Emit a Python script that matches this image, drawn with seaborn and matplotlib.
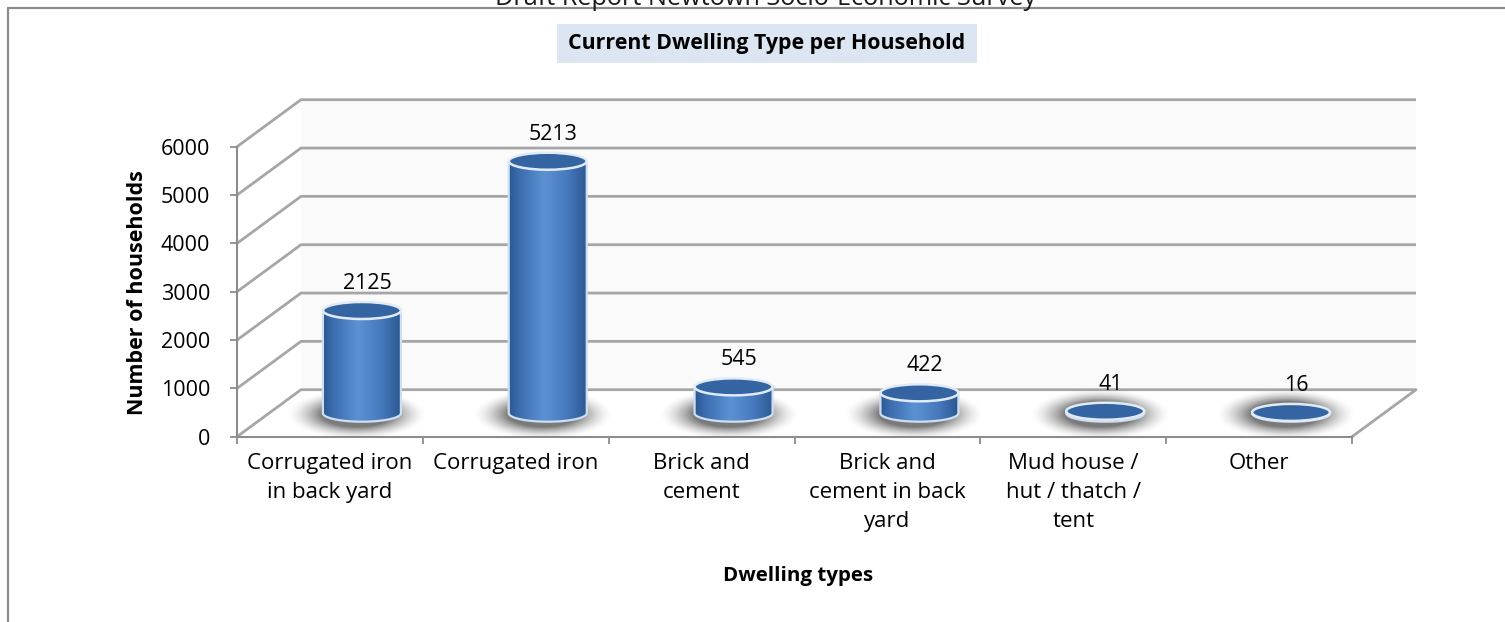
import numpy as np
import pandas as pd
import matplotlib
matplotlib.use("Agg")
import matplotlib.pyplot as plt
import seaborn as sns
from matplotlib.path import Path
from matplotlib.patches import PathPatch, Ellipse, Rectangle, Polygon
from matplotlib.colors import LinearSegmentedColormap
from matplotlib.lines import Line2D

# ---------------- data ----------------
categories = [
    "Corrugated iron\nin back yard",
    "Corrugated iron",
    "Brick and\ncement",
    "Brick and\ncement in back\nyard",
    "Mud house /\nhut / thatch /\ntent",
    "Other",
]
households = [2125, 5213, 545, 422, 41, 16]
y_ticks = [0, 1000, 2000, 3000, 4000, 5000, 6000]
header_text = "Draft Report Newtown Socio-Economic Survey"
chart_title = "Current Dwelling Type per Household"
y_title = "Number of households"
x_title = "Dwelling types"

# ---------------- style ----------------
sns.set_style("white")
plt.rcParams["font.family"] = ["Open Sans", "DejaVu Sans"]

W, H = 1505, 622
fig = plt.figure(figsize=(W / 100, H / 100), dpi=100)
fig.patch.set_facecolor("white")

def fx(x):
    return x / W

def fy(y):
    return 1 - y / H

# geometry in pixels
front_left, front_right = 237.0, 1352.0
y0_px, y6000_px = 436.7, 146.7
DX_px, DY_px = 64.0, 47.0
px_per_unit = (y0_px - y6000_px) / 6000.0
px_per_cat = (front_right - front_left) / 6.0
DX = DX_px / px_per_cat
DY = DY_px / px_per_unit
ymax = 6000 + DY
xmin, xmax = -0.5, 5.5 + DX

ax_left, ax_right = front_left, front_right + DX_px
ax_top, ax_bottom = y6000_px - DY_px, y0_px
ax = fig.add_axes([fx(ax_left), fy(ax_bottom), (ax_right - ax_left) / W, (ax_bottom - ax_top) / H])
ax.set_facecolor("none")

df = pd.DataFrame({"type": categories, "households": households})
sns.barplot(data=df, x="type", y="households", ax=ax, color="#4a7fc1", errorbar=None)
ax.set_xlabel("")
ax.set_ylabel("")

# ---------------- walls / grid ----------------
grid_c = "#a6a6a6"
ax.add_patch(Polygon([(-0.5 + DX, DY), (5.5 + DX, DY), (5.5 + DX, 6000 + DY), (-0.5 + DX, 6000 + DY)],
                     closed=True, fc="#fafafa", ec="none", zorder=0))
for v in y_ticks:
    ax.plot([-0.5, -0.5 + DX, 5.5 + DX], [v, v + DY, v + DY], color=grid_c, lw=2.0,
            zorder=1, clip_on=False, solid_capstyle="butt")
ax.plot([5.5, 5.5 + DX], [0, DY], color=grid_c, lw=2.0, zorder=1, clip_on=False)

# ---------------- cylinders ----------------
cyl_w = 78.0 / px_per_cat
ell_h = 17.0 / px_per_unit
cmap = LinearSegmentedColormap.from_list(
    "cyl", [(0.0, "#2b5891"), (0.12, "#3a6cae"), (0.45, "#5c92d4"), (0.75, "#4679bd"), (1.0, "#2b5891")])
grad = np.linspace(0, 1, 256).reshape(1, -1)

# shadow texture (soft elliptical blur fading to zero at the rim)
gx = np.linspace(-1, 1, 200)
GX, GY = np.meshgrid(gx, gx)
R = np.sqrt(GX ** 2 + GY ** 2)
shadow = np.zeros((200, 200, 4))
shadow[..., :3] = 0.42
shadow[..., 3] = 0.9 * np.clip((1 - R) / 0.5, 0, 1) ** 1.6

bars = [p for p in ax.patches if isinstance(p, Rectangle)]
for p, v in zip(bars, households):
    center = p.get_x() + p.get_width() / 2.0
    height = p.get_height()
    p.set_visible(False)
    cx = center + DX / 2.0
    yb = DY / 2.0
    yt = yb + height
    a = cyl_w / 2.0
    b = ell_h / 2.0
    x0, x1 = cx - a, cx + a

    # shadow
    shw = 70.0 / px_per_cat
    shh = 25.0 / px_per_unit
    scx = cx - 5.0 / px_per_cat
    scy = yb - 1.0 / px_per_unit
    ax.imshow(shadow, extent=(scx - shw, scx + shw, scy - shh, scy + shh), origin="lower",
              aspect="auto", zorder=2, interpolation="bilinear")

    # body path: left side down, bottom arc, right side up
    t = np.linspace(np.pi, 2 * np.pi, 80)
    arc = np.column_stack([cx + a * np.cos(t), yb + b * np.sin(t)])
    verts = np.vstack([[x0, yt], arc, [x1, yt], [x0, yt]])
    codes = [Path.MOVETO] + [Path.LINETO] * (len(verts) - 2) + [Path.CLOSEPOLY]
    body_path = Path(verts, codes)
    clip = PathPatch(body_path, fc="none", ec="none", transform=ax.transData)
    ax.add_patch(clip)
    im = ax.imshow(grad, extent=(x0, x1, yb - b, yt), cmap=cmap, aspect="auto",
                   zorder=3, interpolation="bilinear")
    im.set_clip_path(clip)
    ax.add_patch(PathPatch(body_path, fc="none", ec="#cfdff2", lw=1.6, zorder=4))
    # top cap
    ax.add_patch(Ellipse((cx, yt), cyl_w, ell_h, fc="#3564a2", ec="#e0ebf7", lw=1.8, zorder=5))

    # value label
    ax.text(cx + 0.03, yt + 27.0 / px_per_unit, f"{v}", ha="center", va="center",
            fontsize=15.5, color="black", zorder=10)

# ---------------- axes / ticks ----------------
ax.set_xlim(xmin, xmax)
ax.set_ylim(0, ymax)
for s in ["top", "right"]:
    ax.spines[s].set_visible(False)
ax.spines["left"].set_bounds(0, 6000)
ax.spines["bottom"].set_bounds(-0.5, 5.5)
for s in ["left", "bottom"]:
    ax.spines[s].set_color("#8c8c8c")
    ax.spines[s].set_linewidth(1.5)
    ax.spines[s].set_zorder(1)

ax.set_yticks(y_ticks)
ax.set_yticklabels([str(t) for t in y_ticks])
ax.tick_params(axis="y", which="major", direction="out", length=5.2, width=1.3, color="#8c8c8c",
               pad=14, labelsize=15.5, labelcolor="black", left=True)

ax.set_xticks(np.arange(-0.5, 6.0, 1.0))
ax.set_xticklabels([""] * 7)
ax.set_xticks(np.arange(6), labels=categories, minor=True)
ax.tick_params(axis="x", which="major", direction="out", length=5, width=1.3, color="#8c8c8c", bottom=True)
ax.tick_params(axis="x", which="minor", length=0, pad=12, labelsize=16, labelcolor="black")
for lab in ax.get_xticklabels(minor=True):
    lab.set_horizontalalignment("center")
    lab.set_multialignment("center")
    lab.set_linespacing(1.5)
ax.grid(False)

# ---------------- frame, header, titles ----------------
fig.add_artist(Line2D([fx(8), fx(W)], [fy(8), fy(8)], transform=fig.transFigure, color="#8c8c8c", lw=1.6))
fig.add_artist(Line2D([fx(8), fx(8)], [fy(8), fy(H)], transform=fig.transFigure, color="#8c8c8c", lw=1.6))

hdr = fig.text(fx(766), fy(5), header_text, ha="center", va="baseline", fontsize=16, color="#1a1a1a")
fig.add_artist(Rectangle((fx(557), fy(63)), (977 - 557) / W, (63 - 24) / H, transform=fig.transFigure,
                         fc="#dce6f2", ec="none", zorder=0))
ttl = fig.text(fx(767), fy(44), chart_title, ha="center", va="center", fontsize=14,
               fontweight="bold", color="black")
ylab = fig.text(fx(137.5), fy(292.5), y_title, ha="center", va="center", rotation=90,
                fontsize=15, fontweight="bold", color="black")
xlab = fig.text(fx(798), fy(576), x_title, ha="center", va="center", fontsize=15,
                fontweight="bold", color="black")

fig.canvas.draw()
renderer = fig.canvas.get_renderer()
for art, target, use_h in [(hdr, 542, False), (ttl, 400, False), (ylab, 245, True), (xlab, 150, False)]:
    bb = art.get_window_extent(renderer)
    size = bb.height if use_h else bb.width
    art.set_fontsize(art.get_fontsize() * target / size)

fig.savefig("out.png", dpi=100, facecolor="white")
